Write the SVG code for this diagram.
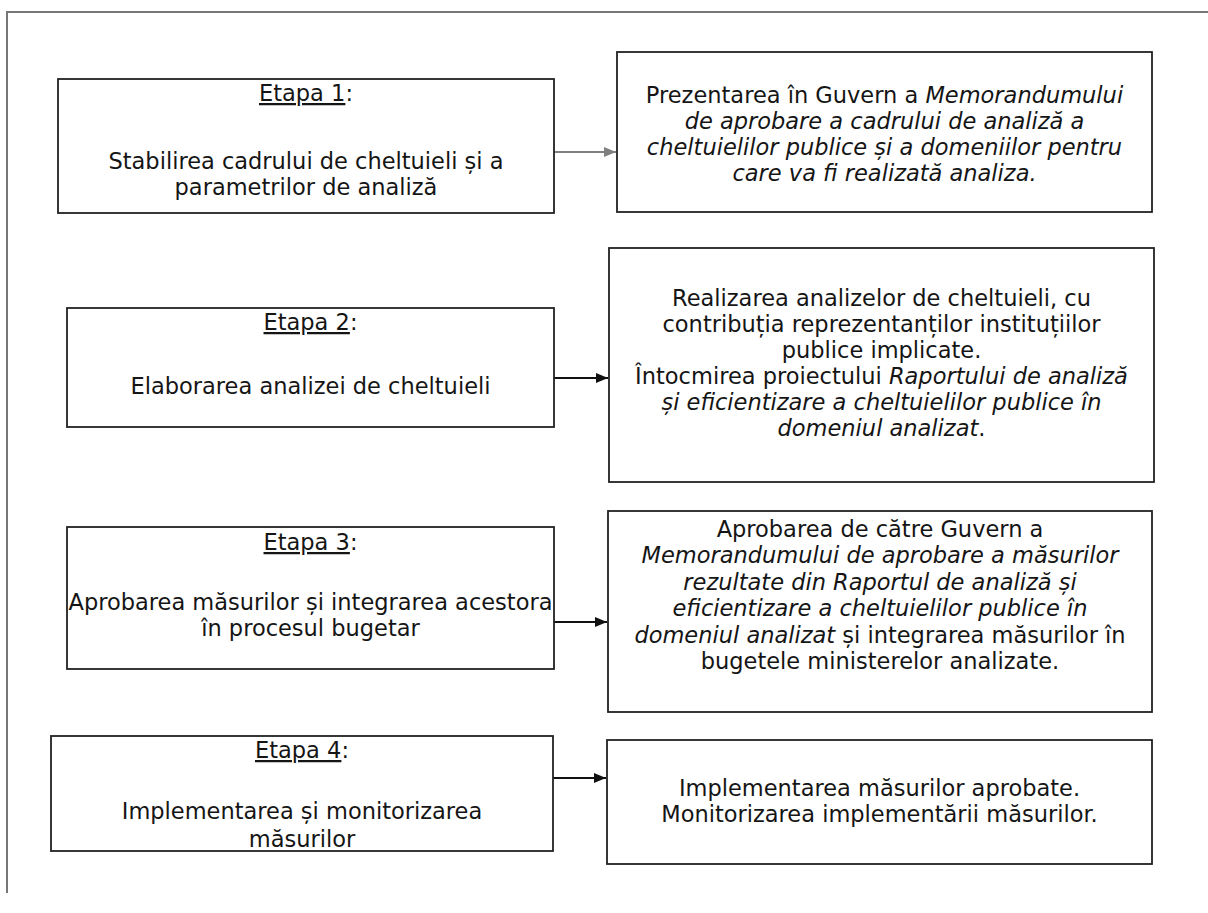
<svg xmlns="http://www.w3.org/2000/svg" width="1208" height="913" viewBox="0 0 1208 913">
<defs>
<style>
text{font-family:"DejaVu Sans","Open Sans",sans-serif;font-size:22.5px;fill:#151515;text-anchor:middle}
.box{fill:#fff;stroke:#222;stroke-width:1.8}
.i{font-style:italic}
.u{text-decoration:underline}
.conn{stroke:#111;stroke-width:2;fill:none}
.gray{stroke:#808080}
</style>
<marker id="ah" viewBox="0 0 12 10" refX="12" refY="5" markerWidth="12" markerHeight="10" markerUnits="userSpaceOnUse" orient="auto"><path d="M0,0 L12,5 L0,10 Z" fill="#111"/></marker>
<marker id="ahg" viewBox="0 0 12 10" refX="12" refY="5" markerWidth="12" markerHeight="10" markerUnits="userSpaceOnUse" orient="auto"><path d="M0,0 L12,5 L0,10 Z" fill="#808080"/></marker>
</defs>
<rect width="1208" height="913" fill="#fff"/>
<g id="frame" stroke="#777" stroke-width="2" fill="none">
<path d="M7,893 L7,12 L1208,12"/>
</g>
<g id="connectors">
<path class="conn gray" d="M554,152 L616,152" marker-end="url(#ahg)"/>
<path class="conn" d="M554,378 L608,378" marker-end="url(#ah)"/>
<path class="conn" d="M554,622 L607,622" marker-end="url(#ah)"/>
<path class="conn" d="M553,778 L606,778" marker-end="url(#ah)"/>
</g>
<g id="etapa1">
<rect class="box" x="58" y="79" width="496" height="134"/>
<text x="306" y="101"><tspan class="u">Etapa 1</tspan>:</text>
<text x="306" y="169">Stabilirea cadrului de cheltuieli și a</text>
<text x="306" y="195">parametrilor de analiză</text>
</g>
<g id="rezultat1">
<rect class="box" x="617" y="52" width="535" height="160"/>
<text x="884.5" y="103">Prezentarea în Guvern a <tspan class="i">Memorandumului</tspan></text>
<text x="884.5" y="129" class="i">de aprobare a cadrului de analiză a</text>
<text x="884.5" y="155" class="i">cheltuielilor publice și a domeniilor pentru</text>
<text x="884.5" y="181" class="i">care va fi realizată analiza.</text>
</g>
<g id="etapa2">
<rect class="box" x="67" y="308" width="487" height="119"/>
<text x="310.5" y="330"><tspan class="u">Etapa 2</tspan>:</text>
<text x="310.5" y="394">Elaborarea analizei de cheltuieli</text>
</g>
<g id="rezultat2">
<rect class="box" x="609" y="248" width="545" height="234"/>
<text x="881.5" y="306">Realizarea analizelor de cheltuieli, cu</text>
<text x="881.5" y="332">contribuția reprezentanților instituțiilor</text>
<text x="881.5" y="358">publice implicate.</text>
<text x="881.5" y="384">Întocmirea proiectului <tspan class="i">Raportului de analiză</tspan></text>
<text x="881.5" y="410" class="i">și eficientizare a cheltuielilor publice în</text>
<text x="881.5" y="436"><tspan class="i">domeniul analizat</tspan>.</text>
</g>
<g id="etapa3">
<rect class="box" x="67" y="527" width="487" height="142"/>
<text x="310.5" y="550"><tspan class="u">Etapa 3</tspan>:</text>
<text x="310.5" y="610">Aprobarea măsurilor și integrarea acestora</text>
<text x="310.5" y="636">în procesul bugetar</text>
</g>
<g id="rezultat3">
<rect class="box" x="608" y="511" width="544" height="201"/>
<text x="880" y="537">Aprobarea de către Guvern a</text>
<text x="880" y="563" class="i">Memorandumului de aprobare a măsurilor</text>
<text x="880" y="590" class="i">rezultate din Raportul de analiză și</text>
<text x="880" y="616" class="i">eficientizare a cheltuielilor publice în</text>
<text x="880" y="643"><tspan class="i">domeniul analizat</tspan> și integrarea măsurilor în</text>
<text x="880" y="669">bugetele ministerelor analizate.</text>
</g>
<g id="etapa4">
<rect class="box" x="51" y="736" width="502" height="115"/>
<text x="302" y="758"><tspan class="u">Etapa 4</tspan>:</text>
<text x="302" y="819">Implementarea și monitorizarea</text>
<text x="302" y="847">măsurilor</text>
</g>
<g id="rezultat4">
<rect class="box" x="607" y="740" width="545" height="124"/>
<text x="879.5" y="796">Implementarea măsurilor aprobate.</text>
<text x="879.5" y="822">Monitorizarea implementării măsurilor.</text>
</g>
</svg>
